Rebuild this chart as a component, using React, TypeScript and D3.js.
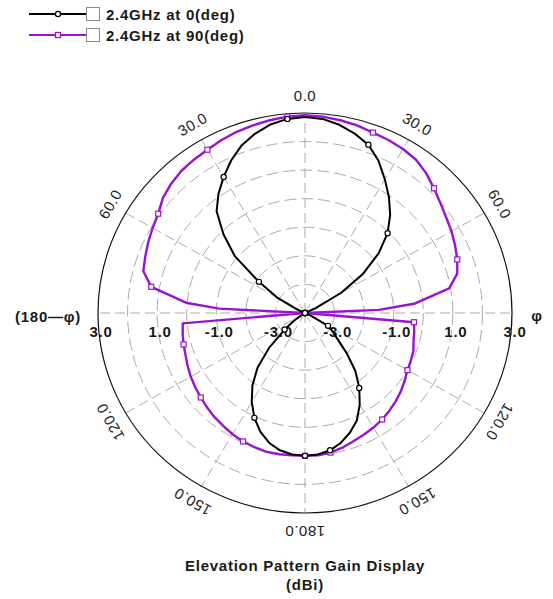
import React from "react";
import * as d3 from "d3";

// ---- data (angle measured clockwise from top, 0..360; right half = φ, left half = 180-φ) ----
const blackAngles = d3.range(0, 360, 5);
const blackValues = [
  2.86, 2.82, 2.69, 2.5, 2.27, 1.88, 1.4, 0.95, 0.48, -0.05, -0.75, -1.6, -2.6, -3.6,
  -4.5, -5, -6, -7, -8, -7, -6, -5, -4.5, -3.8, -3.1, -2.85, -2.55, -2.0, -1.35, -0.8,
  -0.3, 0.15, 0.45, 0.7, 0.88, 0.97, 1.0, 0.97, 0.88, 0.7, 0.42, 0.05, -0.4, -0.9, -1.5,
  -2.3, -3.1, -3.6, -4.2, -5, -6, -7, -8, -8, -8, -8, -7, -6, -4.6, -3.7, -2.9, -2.1,
  -0.9, -0.1, 0.65, 1.1, 1.5, 1.9, 2.25, 2.5, 2.7, 2.82,
];
const purpleAngles = [
  0, 5, 10, 15, 20, 25, 30, 35, 40, 45, 50, 55, 60, 65, 70, 75, 80, 85, 87.5, 90, 95, 100,
  105, 110, 115, 120, 125, 130, 135, 140, 145, 150, 155, 160, 165, 170, 175, 180, 185, 190,
  195, 200, 205, 210, 215, 220, 225, 230, 235, 240, 245, 250, 255, 260, 265, 270, 273, 275,
  280, 285, 290, 295, 300, 305, 310, 315, 320, 325, 330, 335, 340, 345, 350, 355,
];
const purpleValues = [
  2.92, 2.9, 2.85, 2.8, 2.72, 2.68, 2.63, 2.55, 2.38, 2.17, 1.98, 1.83, 1.72, 1.6, 1.48,
  1.33, 0.95, -0.3, -1.5, -6, -0.3, -0.25, -0.2, -0.1, -0.05, 0.0, 0.12, 0.24, 0.35, 0.45,
  0.55, 0.63, 0.7, 0.78, 0.88, 0.96, 1.0, 1.0, 1.0, 1.02, 1.03, 1.0, 0.96, 0.9, 0.82, 0.76,
  0.68, 0.6, 0.53, 0.46, 0.38, 0.3, 0.25, 0.2, 0.15, -6, -1.1, 0.0, 1.28, 1.66, 1.75, 1.85,
  1.95, 2.06, 2.27, 2.4, 2.5, 2.55, 2.6, 2.68, 2.75, 2.8, 2.85, 2.9,
];
const markerAngles = [180, 205, 230, 255, 280, 305, 330, 355, 20, 45, 70, 95, 120, 145, 170];
const ringValues = [-3, -2, -1, 0, 1, 2];
const radialTickValues = [3, 1, -1, -3];
const spokeAngles = [0, 30, 60, 90, 120, 150, 180, 210, 240, 270, 300, 330];
const angleLabelAngles = [0, 30, 60, 120, 150, 180, 210, 240, 300, 330];
const legendLabels = ["2.4GHz at 0(deg)", "2.4GHz at 90(deg)"];
const titleLines = ["Elevation Pattern Gain Display", "(dBi)"];

const FONT = "'Liberation Sans', Arial, sans-serif";
const cx = 305;
const cy = 313;
const RX = 207;
const RY = 200;
const BLACK = "#000000";
const PURPLE = "#9a12d2";
const GRID = "#ababab";
const TXT = "#1a1a1a";
const BOLD = { fontSize: 15, fontWeight: "bold" as const, letterSpacing: 0.75 };

const rScale = d3.scaleLinear().domain([-4, 3]).range([0, 1]).clamp(true);

function proj(a: number, v: number): [number, number] {
  const t = (a * Math.PI) / 180;
  const r = rScale(v);
  return [cx + r * RX * Math.sin(t), cy - r * RY * Math.cos(t)];
}

function buildPoints(angles: number[], values: number[]) {
  return angles.map((a, i) => proj(a, values[i]));
}

const lineGen = d3.line<[number, number]>().curve(d3.curveLinearClosed);

export default function App() {
  const blackPts = buildPoints(blackAngles, blackValues);
  const purplePts = buildPoints(purpleAngles, purpleValues);
  const blackMarkers = markerAngles.map((a) => proj(a, blackValues[blackAngles.indexOf(a)]));
  const purpleMarkers = markerAngles.map((a) => proj(a, purpleValues[purpleAngles.indexOf(a)]));

  return (
    <svg
      width={553}
      height={599}
      style={{ position: "absolute", left: 0, top: 0, background: "#fff" }}
      fontFamily={FONT}
    >
      <rect x={0} y={0} width={553} height={599} fill="#fff" />
      {/* legend */}
      {legendLabels.map((lab, i) => {
        const y = 14 + i * 21;
        const col = i === 0 ? BLACK : PURPLE;
        return (
          <g key={lab}>
            <line x1={29} x2={86} y1={y} y2={y} stroke={col} strokeWidth={2} />
            {i === 0 ? (
              <circle cx={58} cy={y} r={2.6} fill="#fff" stroke={col} strokeWidth={1.3} />
            ) : (
              <rect x={55.5} y={y - 2.5} width={5} height={5} fill="#fff" stroke={col} strokeWidth={1.3} />
            )}
            <rect x={86.5} y={y - 6.5} width={13} height={13} fill="#fff" stroke="#8a8a8a" strokeWidth={1} />
            <text x={106} y={y + 5.5} {...BOLD} fill={TXT}>
              {lab}
            </text>
          </g>
        );
      })}

      {/* grid rings */}
      {ringValues.map((v) => (
        <ellipse
          key={v}
          cx={cx}
          cy={cy}
          rx={rScale(v) * RX}
          ry={rScale(v) * RY}
          fill="none"
          stroke={GRID}
          strokeWidth={1}
          strokeDasharray="12 5"
        />
      ))}
      {spokeAngles.map((a) => {
        const [x, y] = proj(a, 3);
        return (
          <line key={a} x1={cx} y1={cy} x2={x} y2={y} stroke={GRID} strokeWidth={1} strokeDasharray="10 5" />
        );
      })}
      <ellipse cx={cx} cy={cy} rx={RX} ry={RY} fill="none" stroke="#111" strokeWidth={1.2} />

      {/* angle labels */}
      {angleLabelAngles.map((a) => {
        const t = (a * Math.PI) / 180;
        const x = cx + (RX + 18) * Math.sin(t);
        const y = cy - (RY + 18) * Math.cos(t);
        const val = a <= 180 ? a : 360 - a;
        return (
          <text
            key={a}
            x={x}
            y={y}
            fontSize={15}
            letterSpacing={0.5}
            fill="#222"
            textAnchor="middle"
            dominantBaseline="central"
            transform={`rotate(${a} ${x} ${y})`}
          >
            {val.toFixed(1)}
          </text>
        );
      })}

      {/* radial tick labels */}
      {radialTickValues.map((v) => {
        const d = rScale(v) * RX;
        return (
          <g key={v}>
            <text x={cx - d + 3} y={337} {...BOLD} fill={TXT} textAnchor="middle">
              {v.toFixed(1)}
            </text>
            <text x={cx + d + 3} y={337} {...BOLD} fill={TXT} textAnchor="middle">
              {v.toFixed(1)}
            </text>
          </g>
        );
      })}
      <text x={81} y={322} {...BOLD} fill={TXT} textAnchor="end">
        (180—φ)
      </text>
      <text x={537} y={321} {...BOLD} fill={TXT} textAnchor="middle">
        φ
      </text>

      {/* series */}
      <path d={lineGen(purplePts) || ""} fill="none" stroke={PURPLE} strokeWidth={2.4} strokeLinejoin="round" />
      <path d={lineGen(blackPts) || ""} fill="none" stroke={BLACK} strokeWidth={2} strokeLinejoin="round" />
      {purpleMarkers.map(([x, y], i) => (
        <rect key={i} x={x - 2.5} y={y - 2.5} width={5} height={5} fill="#fff" stroke={PURPLE} strokeWidth={1.2} />
      ))}
      {blackMarkers.map(([x, y], i) => (
        <circle key={i} cx={x} cy={y} r={2.6} fill="#fff" stroke={BLACK} strokeWidth={1.2} />
      ))}

      {/* title */}
      {titleLines.map((t, i) => (
        <text key={t} x={cx} y={571 + i * 19} {...BOLD} fill={TXT} textAnchor="middle">
          {t}
        </text>
      ))}
    </svg>
  );
}
